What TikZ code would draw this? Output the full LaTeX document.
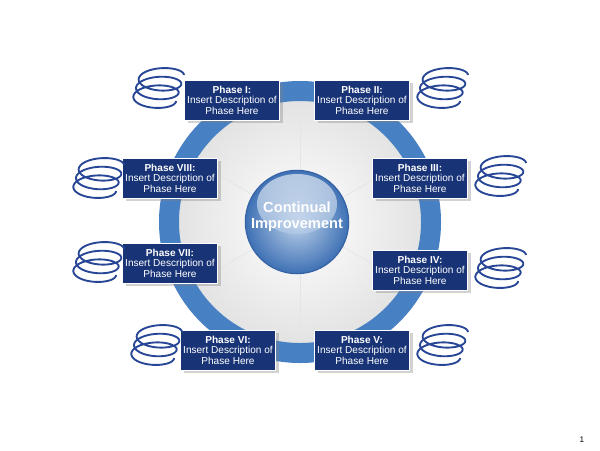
\documentclass[tikz,border=0pt]{standalone}
\usepackage{fontspec}
\setmainfont{Liberation Sans}
\usetikzlibrary{shadows}
\definecolor{ringblue}{RGB}{72,128,196}
\definecolor{navy}{RGB}{24,52,118}
\definecolor{springblue}{RGB}{40,70,150}
\tikzset{
  phasebox/.style={draw=white,line width=0.6pt,fill=navy,text=white,
    minimum width=2.85cm,minimum height=1.2cm,align=center,inner sep=1pt,
    font=\fontsize{8.6}{9}\selectfont,drop shadow={opacity=0.35}},
  spring/.style={springblue,line width=1.6pt}
}
\newcommand{\springat}[2]{%
  \draw[spring,shift={(#1,#2)}] plot[domain=0:1080,samples=150,smooth]
    ({22*cos(\x)+\x/1080*8-4},{9*sin(\x)+13-\x/1080*26});}
\begin{document}
\begin{tikzpicture}[x=0.03cm,y=-0.03cm]
  \useasboundingbox (0,0) rectangle (600,450);
  \fill[white] (0,0) rectangle (600,450);

  % Disc and ring
  \shade[inner color=white,outer color=gray!22] (300,222) circle (3.65cm);
  \foreach \a in {30,90,150,210,270,330}
    \draw[white!80!gray,line width=0.6pt] (300,222) -- ++(\a:3.6cm);
  \draw[ringblue,line width=0.6cm] (300,222) circle (3.93cm);
  \foreach \a in {0,45,...,315}
    \draw[white!60!ringblue,line width=1pt] (300,222) ++(\a+22:3.65cm) -- ++(\a+22-45:0.3cm)
      -- ++(\a+22+45:0.3cm);

  % Centre
  \shade[inner color=ringblue!35!white,outer color=ringblue!80!navy] (297,222) circle (1.55cm);
  \shade[top color=white,bottom color=ringblue!40!white,opacity=0.6] (297,204) ellipse (1.2cm and 0.9cm);
  \draw[ringblue!60!navy,line width=1pt] (297,222) circle (1.55cm);
  \node[text=white,font=\bfseries\fontsize{12.5}{14}\selectfont,align=center] (hub) at (297,217)
    {Continual\\Improvement};

  % Phases
  \node[phasebox] (p1) at (232,100) {\textbf{Phase I:}\\Insert Description of\\Phase Here};
  \node[phasebox] (p2) at (362,100) {\textbf{Phase II:}\\Insert Description of\\Phase Here};
  \node[phasebox] (p3) at (420,178) {\textbf{Phase III:}\\Insert Description of\\Phase Here};
  \node[phasebox] (p4) at (420,270) {\textbf{Phase IV:}\\Insert Description of\\Phase Here};
  \node[phasebox] (p5) at (362,350) {\textbf{Phase V:}\\Insert Description of\\Phase Here};
  \node[phasebox] (p6) at (228,350) {\textbf{Phase VI:}\\Insert Description of\\Phase Here};
  \node[phasebox] (p7) at (170,263) {\textbf{Phase VII:}\\Insert Description of\\Phase Here};
  \node[phasebox] (p8) at (170,178) {\textbf{Phase VIII:}\\Insert Description of\\Phase Here};

  % Springs
  \springat{158}{88}
  \springat{442}{88}
  \springat{500}{176}
  \springat{500}{268}
  \springat{442}{345}
  \springat{156}{345}
  \springat{98}{178}
  \springat{98}{262}

  \node[font=\fontsize{7}{7}\selectfont] (pg) at (582,440) {1};
\end{tikzpicture}
\end{document}
